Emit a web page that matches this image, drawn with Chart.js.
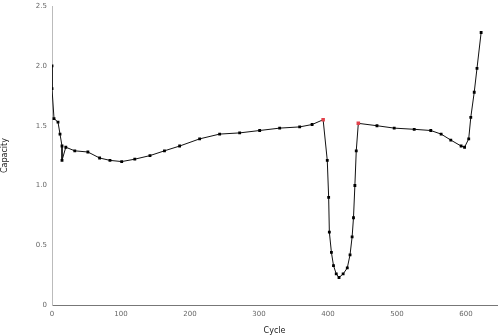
<!DOCTYPE html>
<html>
<head>
<meta charset="utf-8">
<script src="https://cdn.jsdelivr.net/npm/chart.js@4"></script>
<style>
  html, body { margin: 0; padding: 0; background: #fff; }
  #wrap { width: 501px; height: 336px; }
</style>
</head>
<body>
<div id="wrap"><canvas id="chart" width="501" height="336"></canvas></div>
<script>
// readings
const cycleX = [0, 0, 2.9, 8.7, 11.6, 14.5, 14.5, 20, 33, 52, 69, 84, 101, 120, 142, 163, 185, 214, 243, 272,
  301, 330, 359, 377, 393, 399, 401, 402, 405, 408, 412, 416, 422, 428, 432, 435, 437, 439, 441, 444,
  471, 496, 525, 549, 564, 578, 593, 598, 604, 607, 612, 616, 622];
const capacityY = [2.0, 1.81, 1.56, 1.53, 1.43, 1.33, 1.21, 1.32, 1.29, 1.28, 1.23, 1.21, 1.2, 1.22, 1.25, 1.29, 1.33, 1.39, 1.43, 1.44,
  1.46, 1.48, 1.49, 1.51, 1.55, 1.21, 0.9, 0.61, 0.44, 0.33, 0.26, 0.23, 0.26, 0.31, 0.42, 0.57, 0.73, 1.0, 1.29, 1.52,
  1.5, 1.48, 1.47, 1.46, 1.43, 1.38, 1.33, 1.32, 1.39, 1.57, 1.78, 1.98, 2.28];
const redPoints = [24, 39];   // indexes drawn in red
const xTicks = [0, 100, 200, 300, 400, 500, 600];
const yTicks = [0, 0.5, 1, 1.5, 2, 2.5];

document.addEventListener('DOMContentLoaded', () => {
  const pts = cycleX.map((x, i) => ({ x: x, y: capacityY[i] }));
  const isRed = c => redPoints.includes(c.dataIndex);
  const ctx = document.getElementById('chart').getContext('2d');
  new Chart(ctx, {
    type: 'scatter',
    data: {
      datasets: [{
        data: pts,
        showLine: true,
        borderColor: '#111',
        borderWidth: 1,
        pointStyle: 'rect',
        pointRadius: c => isRed(c) ? 2.5 : 2,
        pointBackgroundColor: c => isRed(c) ? '#e2404a' : '#000',
        pointBorderColor: c => isRed(c) ? '#e2404a' : '#000',
        pointBorderWidth: 0
      }]
    },
    options: {
      responsive: false,
      animation: false,
      layout: { padding: { top: 5, right: 3, left: 0, bottom: 0 } },
      plugins: { legend: { display: false }, tooltip: { enabled: false } },
      scales: {
        x: {
          type: 'linear', min: 0, max: 645,
          afterBuildTicks: a => { a.ticks = xTicks.map(v => ({ value: v })); },
          afterFit: a => { a.height = 31; },
          grid: { display: false, drawTicks: true, tickLength: 3, color: '#888' },
          border: { color: '#777', width: 1 },
          ticks: { color: '#666', font: { family: 'DejaVu Sans', size: 7 }, padding: 2, maxRotation: 0 },
          title: { display: true, text: 'Cycle', color: '#222', font: { family: 'DejaVu Sans', size: 8 }, padding: 0 }
        },
        y: {
          type: 'linear', min: 0, max: 2.5,
          afterBuildTicks: a => { a.ticks = yTicks.map(v => ({ value: v })); },
          afterFit: a => { a.width = 52; },
          grid: { display: false, drawTicks: true, tickLength: 3, color: '#888' },
          border: { color: '#bbb', width: 1 },
          ticks: { color: '#666', font: { family: 'DejaVu Sans', size: 7 }, padding: 2 },
          title: { display: true, text: 'Capacity', color: '#222', font: { family: 'DejaVu Sans', size: 8 }, padding: 0 }
        }
      }
    }
  });
});
</script>
</body>
</html>
